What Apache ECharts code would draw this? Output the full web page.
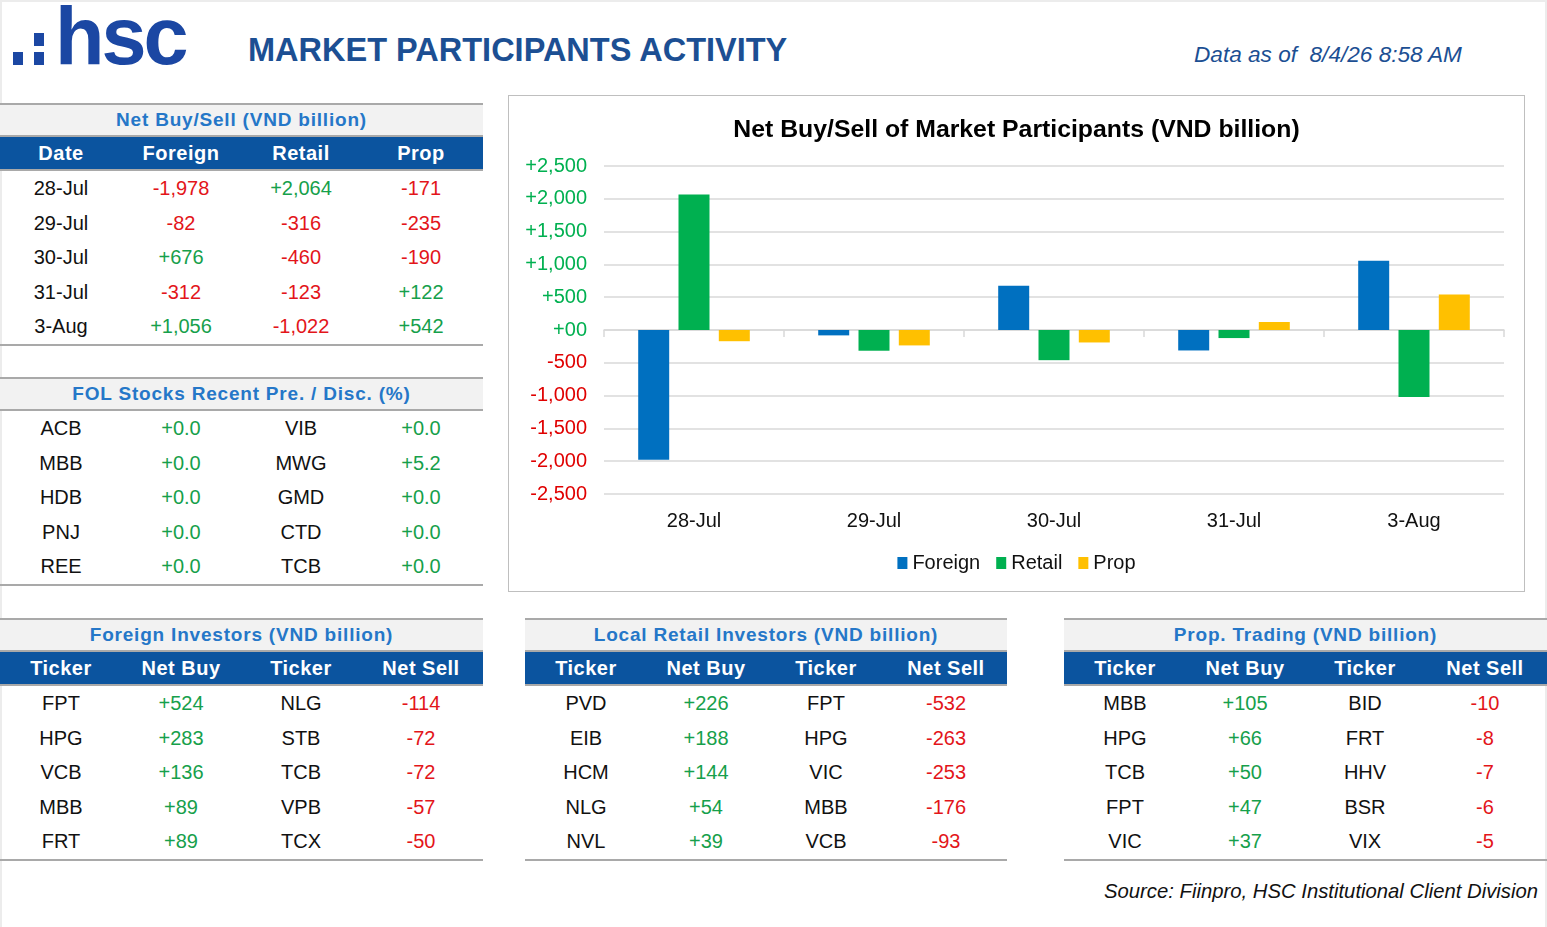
<!DOCTYPE html>
<html>
<head>
<meta charset="utf-8">
<script src="https://cdn.jsdelivr.net/npm/echarts/dist/echarts.min.js"></script>
<style>
  html, body { margin:0; padding:0; background:#fff; }
  body { width:1547px; height:927px; position:relative; overflow:hidden; font-family:"Liberation Sans", Arial, sans-serif; }
  .frame { position:absolute; left:0; top:0; width:1547px; height:927px; box-sizing:border-box; border:2px solid #ececec; border-bottom:none; pointer-events:none; }
  .logo { position:absolute; left:55px; top:-4px; font-size:81px; font-weight:bold; color:#1b47a3; letter-spacing:-3px; line-height:81px; }
  .dot { position:absolute; background:#1b47a3; width:10px; height:13px; }
  .maintitle { position:absolute; left:248px; top:31px; font-size:32.5px; font-weight:bold; color:#1c4f93; line-height:38px; white-space:nowrap; }
  .asof { position:absolute; left:1194px; top:41px; font-size:22.6px; font-style:italic; color:#1c4f93; line-height:28px; white-space:pre; }
  .source { position:absolute; right:9px; top:878px; font-size:20.3px; font-style:italic; color:#111; line-height:26px; white-space:nowrap; }
  .tbl { position:absolute; }
  .ttl { height:34px; box-sizing:border-box; border-top:2px solid #a9a9a9; border-bottom:2px solid #a9a9a9; background:#f2f2f2; color:#2577c8; font-weight:bold; font-size:19px; letter-spacing:0.8px; text-align:center; line-height:30px; white-space:nowrap; }
  .hdr { height:34px; box-sizing:border-box; background:#0b549f; border-bottom:2px solid #a9a9a9; display:flex; color:#fff; font-weight:bold; font-size:20px; letter-spacing:0.5px; line-height:33px; }
  .row { height:34.6px; display:flex; font-size:20px; line-height:34.6px; color:#111; }
  .cell { width:120px; text-align:center; white-space:nowrap; }
  .bot { border-top:2px solid #a9a9a9; }
  #chartbox { position:absolute; left:508px; top:95px; width:1017px; height:497px; box-sizing:border-box; border:1px solid #bfbfbf; }
  #chart { width:1015px; height:495px; }
</style>
</head>
<body>
<div class="frame"></div>
<div class="dot" style="left:13px; top:52px;"></div>
<div class="dot" style="left:34px; top:52px;"></div>
<div class="dot" style="left:34px; top:33px;"></div>
<div class="logo">hsc</div>
<div class="maintitle">MARKET PARTICIPANTS ACTIVITY</div>
<div class="asof">Data as of  8/4/26 8:58 AM</div>
<div class="source">Source: Fiinpro, HSC Institutional Client Division</div>
<div id="chartbox"><div id="chart"></div></div>

<script>
// ---------- DATA ----------
const dates = ['28-Jul', '29-Jul', '30-Jul', '31-Jul', '3-Aug'];
const foreignNet = [-1978, -82, 676, -312, 1056];
const retailNet = [2064, -316, -460, -123, -1022];
const propNet = [-171, -235, -190, 122, 542];

const folTickersA = ['ACB', 'MBB', 'HDB', 'PNJ', 'REE'];
const folValuesA = [0.0, 0.0, 0.0, 0.0, 0.0];
const folTickersB = ['VIB', 'MWG', 'GMD', 'CTD', 'TCB'];
const folValuesB = [0.0, 5.2, 0.0, 0.0, 0.0];

const foreignBuyTickers = ['FPT', 'HPG', 'VCB', 'MBB', 'FRT'];
const foreignBuyValues = [524, 283, 136, 89, 89];
const foreignSellTickers = ['NLG', 'STB', 'TCB', 'VPB', 'TCX'];
const foreignSellValues = [-114, -72, -72, -57, -50];

const retailBuyTickers = ['PVD', 'EIB', 'HCM', 'NLG', 'NVL'];
const retailBuyValues = [226, 188, 144, 54, 39];
const retailSellTickers = ['FPT', 'HPG', 'VIC', 'MBB', 'VCB'];
const retailSellValues = [-532, -263, -253, -176, -93];

const propBuyTickers = ['MBB', 'HPG', 'TCB', 'FPT', 'VIC'];
const propBuyValues = [105, 66, 50, 47, 37];
const propSellTickers = ['BID', 'FRT', 'HHV', 'BSR', 'VIX'];
const propSellValues = [-10, -8, -7, -6, -5];

const seriesNames = ['Foreign', 'Retail', 'Prop'];
const yTicks = [-2500, 2500, 500];

// ---------- HELPERS ----------
const GREEN = '#16a04b', RED = '#e3151a', AXGREEN = '#00b050', AXRED = '#e00000';
function signed(v) { return (v >= 0 ? '+' : '-') + Math.abs(v).toLocaleString('en-US'); }
function signed1(v) { return (v >= 0 ? '+' : '-') + Math.abs(v).toFixed(1); }
function numCell(v, f) { return { t: f(v), c: v >= 0 ? GREEN : RED }; }
function txtCell(s) { return { t: s, c: '#111' }; }

function buildTable(x, y, w, title, header, rows) {
  const d = document.createElement('div');
  d.className = 'tbl';
  d.style.left = x + 'px'; d.style.top = y + 'px'; d.style.width = w + 'px';
  let h = '<div class="ttl">' + title + '</div>';
  if (header) {
    h += '<div class="hdr" style="padding-left:1px">' + header.map(s => '<div class="cell">' + s + '</div>').join('') + '</div>';
  }
  rows.forEach(r => {
    h += '<div class="row" style="padding-left:1px">' + r.map(c => '<div class="cell" style="color:' + c.c + '">' + c.t + '</div>').join('') + '</div>';
  });
  h += '<div class="bot"></div>';
  d.innerHTML = h;
  document.body.appendChild(d);
}

// Table 1: Net Buy/Sell
buildTable(0, 103, 483, 'Net Buy/Sell (VND billion)', ['Date', 'Foreign', 'Retail', 'Prop'],
  dates.map((dt, i) => [txtCell(dt), numCell(foreignNet[i], signed), numCell(retailNet[i], signed), numCell(propNet[i], signed)]));

// Table 2: FOL
buildTable(0, 377, 483, 'FOL Stocks Recent Pre. / Disc. (%)', null,
  folTickersA.map((t, i) => [txtCell(t), numCell(folValuesA[i], signed1), txtCell(folTickersB[i]), numCell(folValuesB[i], signed1)]));

function tickerRows(bt, bv, st, sv) {
  return bt.map((t, i) => [txtCell(t), numCell(bv[i], signed), txtCell(st[i]), numCell(sv[i], signed)]);
}
const tickHdr = ['Ticker', 'Net Buy', 'Ticker', 'Net Sell'];
buildTable(0, 618, 483, 'Foreign Investors (VND billion)', tickHdr, tickerRows(foreignBuyTickers, foreignBuyValues, foreignSellTickers, foreignSellValues));
buildTable(525, 618, 482, 'Local Retail Investors (VND billion)', tickHdr, tickerRows(retailBuyTickers, retailBuyValues, retailSellTickers, retailSellValues));
buildTable(1064, 618, 483, 'Prop. Trading (VND billion)', tickHdr, tickerRows(propBuyTickers, propBuyValues, propSellTickers, propSellValues));

// ---------- CHART ----------
const chart = echarts.init(document.getElementById('chart'));
const FONT = '"Liberation Sans", Arial, sans-serif';
const colors = ['#0070c0', '#00b050', '#ffc000'];
const seriesData = [foreignNet, retailNet, propNet];

chart.setOption({
  animation: false,
  color: colors,
  textStyle: { fontFamily: FONT },
  title: {
    text: 'Net Buy/Sell of Market Participants (VND billion)',
    left: 'center', top: 17,
    textStyle: { fontSize: 24.8, fontWeight: 'bold', color: '#000', fontFamily: FONT }
  },
  legend: {
    data: seriesNames,
    left: 'center', top: 452,
    icon: 'rect', itemWidth: 10, itemHeight: 12, itemGap: 16,
    textStyle: { fontSize: 20, color: '#111', fontFamily: FONT }
  },
  grid: { left: 95, right: 20, top: 70, bottom: 97 },
  xAxis: [
    {
      type: 'category', data: dates,
      axisLine: { onZero: true, lineStyle: { color: '#d9d9d9', width: 1.5 } },
      axisTick: { show: true, length: 7, lineStyle: { color: '#d9d9d9', width: 1.5 } },
      axisLabel: { show: false }
    },
    {
      type: 'category', data: dates, position: 'bottom',
      axisLine: { show: false, onZero: false },
      axisTick: { show: false },
      axisLabel: { show: true, margin: 17, fontSize: 20, color: '#111', fontFamily: FONT }
    }
  ],
  yAxis: {
    type: 'value', min: yTicks[0], max: yTicks[1], interval: yTicks[2],
    axisLine: { show: false }, axisTick: { show: false },
    splitLine: { lineStyle: { color: '#d9d9d9', width: 1.5 } },
    axisLabel: {
      margin: 17, fontSize: 20, fontFamily: FONT,
      formatter: function (v) {
        if (v === 0) return '{g|+00}';
        return v > 0 ? '{g|' + signed(v) + '}' : '{r|' + signed(v) + '}';
      },
      rich: {
        g: { color: AXGREEN, fontSize: 20, fontFamily: FONT },
        r: { color: AXRED, fontSize: 20, fontFamily: FONT }
      }
    }
  },
  series: seriesNames.map((n, i) => ({
    name: n, type: 'bar', xAxisIndex: 0, data: seriesData[i],
    barWidth: 31, barGap: '30%'
  }))
});
</script>
</body>
</html>
